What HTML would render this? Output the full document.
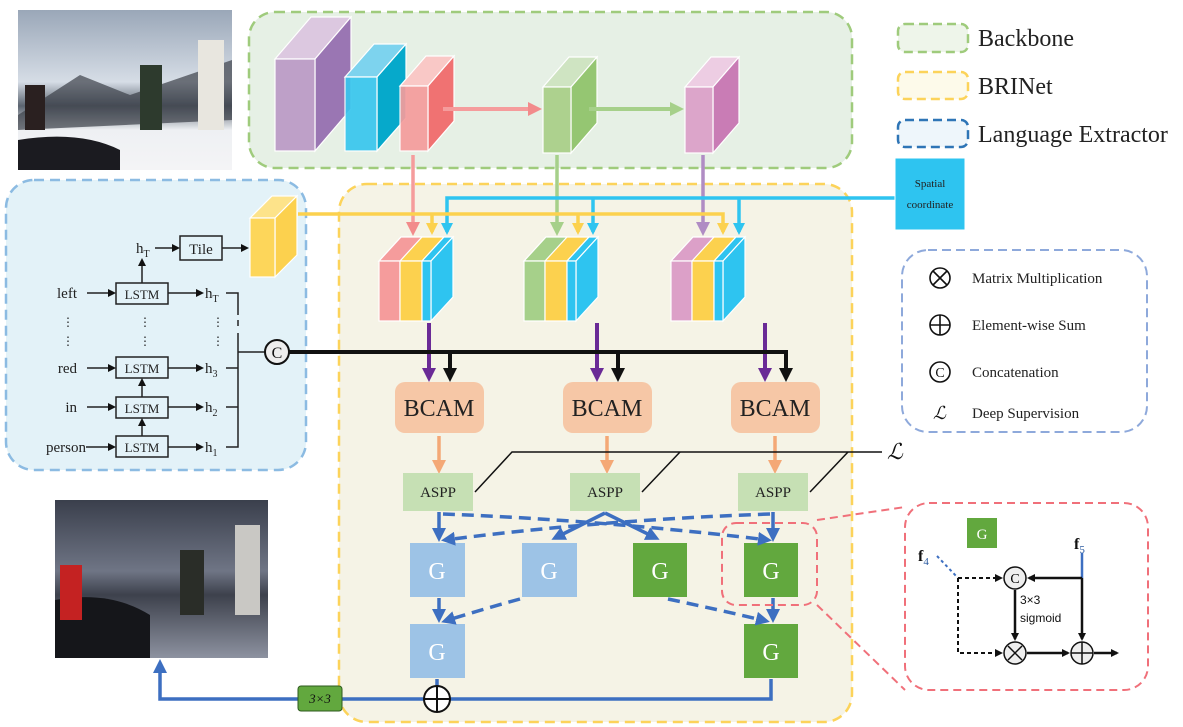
<!DOCTYPE html>
<html><head><meta charset="utf-8"><style>
html,body{margin:0;padding:0;background:#fff;}
svg{display:block;font-family:"Liberation Serif",serif;}
</style></head><body>
<svg width="1183" height="727" viewBox="0 0 1183 727" xmlns="http://www.w3.org/2000/svg">
<defs>
<marker id="ak" markerWidth="8" markerHeight="8" refX="6" refY="4" orient="auto" markerUnits="userSpaceOnUse"><path d="M0,0 L8,4 L0,8 Z" fill="#111"/></marker>
<marker id="ab" markerWidth="14" markerHeight="14" refX="10" refY="7" orient="auto" markerUnits="userSpaceOnUse"><path d="M0,0 L14,7 L0,14 Z" fill="#111"/></marker>
<marker id="ap" markerWidth="14" markerHeight="14" refX="10" refY="7" orient="auto" markerUnits="userSpaceOnUse"><path d="M0,0 L14,7 L0,14 Z" fill="#f28b8b"/></marker>
<marker id="ag" markerWidth="14" markerHeight="14" refX="10" refY="7" orient="auto" markerUnits="userSpaceOnUse"><path d="M0,0 L14,7 L0,14 Z" fill="#a6d08a"/></marker>
<marker id="am" markerWidth="14" markerHeight="14" refX="10" refY="7" orient="auto" markerUnits="userSpaceOnUse"><path d="M0,0 L14,7 L0,14 Z" fill="#b08cc4"/></marker>
<marker id="ay" markerWidth="12" markerHeight="12" refX="9" refY="6" orient="auto" markerUnits="userSpaceOnUse"><path d="M0,0 L12,6 L0,12 Z" fill="#fcd14e"/></marker>
<marker id="ac" markerWidth="12" markerHeight="12" refX="9" refY="6" orient="auto" markerUnits="userSpaceOnUse"><path d="M0,0 L12,6 L0,12 Z" fill="#2ec4f0"/></marker>
<marker id="av" markerWidth="14" markerHeight="14" refX="10" refY="7" orient="auto" markerUnits="userSpaceOnUse"><path d="M0,0 L14,7 L0,14 Z" fill="#6a2a96"/></marker>
<marker id="ao" markerWidth="14" markerHeight="14" refX="10" refY="7" orient="auto" markerUnits="userSpaceOnUse"><path d="M0,0 L14,7 L0,14 Z" fill="#f4a876"/></marker>
<marker id="abl" markerWidth="14" markerHeight="14" refX="10" refY="7" orient="auto" markerUnits="userSpaceOnUse"><path d="M0,0 L14,7 L0,14 Z" fill="#3d6fc1"/></marker>
<linearGradient id="sky" x1="0" y1="0" x2="0" y2="1"><stop offset="0" stop-color="#9aa7b8"/><stop offset="0.45" stop-color="#d6dde6"/><stop offset="0.6" stop-color="#5b6470"/><stop offset="0.75" stop-color="#eef0f3"/><stop offset="1" stop-color="#f4f4f6"/></linearGradient>
<linearGradient id="sky2" x1="0" y1="0" x2="0" y2="1"><stop offset="0" stop-color="#3a3f4c"/><stop offset="0.45" stop-color="#6f7585"/><stop offset="0.6" stop-color="#3d414c"/><stop offset="1" stop-color="#8d92a0"/></linearGradient>
</defs>

<!-- photos -->
<rect x="18" y="10" width="214" height="160" fill="url(#sky)"/>
<path d="M18,115 L80,75 L130,95 L232,60 L232,120 L18,130Z" fill="#3c4048" opacity="0.7"/>
<path d="M18,140 Q80,130 120,150 L120,170 L18,170Z" fill="#1b1b20"/>
<rect x="140" y="65" width="22" height="65" fill="#2d3a2d"/>
<rect x="198" y="40" width="26" height="90" fill="#e8e6df"/>
<rect x="25" y="85" width="20" height="45" fill="#2a2020"/>
<rect x="55" y="500" width="213" height="158" fill="url(#sky2)"/>
<path d="M55,600 Q110,590 150,615 L150,658 L55,658Z" fill="#15161a"/>
<rect x="60" y="565" width="22" height="55" fill="#c42222"/>
<rect x="180" y="550" width="24" height="65" fill="#2a2d28"/>
<rect x="235" y="525" width="25" height="90" fill="#c9c8c4"/>

<!-- Backbone region -->
<rect x="249" y="12" width="603" height="156" rx="26" fill="#e6f0e5" stroke="#9fcb7c" stroke-width="2.5" stroke-dasharray="10,6"/>
<!-- BRINet region -->
<rect x="339" y="184" width="513" height="538" rx="28" fill="#f5f3e6" stroke="#fcd35a" stroke-width="2.5" stroke-dasharray="10,6"/>
<!-- Language region -->
<rect x="6" y="180" width="300" height="290" rx="28" fill="#e3f2f8" stroke="#8cbbe2" stroke-width="2.5" stroke-dasharray="10,6"/>

<!-- backbone cubes -->
<g stroke="#fff" stroke-width="1.2">
<polygon points="275,59 311,17 351,17 315,59" fill="#dcc8e0"/><polygon points="315,59 351,17 351,109 315,151" fill="#9a76b3"/><rect x="275" y="59" width="40" height="92" fill="#bea0c8"/>
<polygon points="345,77 374,44 406,44 377,77" fill="#7dd3ee"/><polygon points="377,77 406,44 406,118 377,151" fill="#06a9cb"/><rect x="345" y="77" width="32" height="74" fill="#38c6ee" opacity="0.92"/>
<polygon points="400,86 426,56 454,56 428,86" fill="#f9c8c6"/><polygon points="428,86 454,56 454,121 428,151" fill="#f07272"/><rect x="400" y="86" width="28" height="65" fill="#f59c9c" opacity="0.92"/>
<polygon points="543,87 569,57 597,57 571,87" fill="#cfe4c2"/><polygon points="571,87 597,57 597,123 571,153" fill="#95c672"/><rect x="543" y="87" width="28" height="66" fill="#add18e"/>
<polygon points="685,87 711,57 739,57 713,87" fill="#edcde3"/><polygon points="713,87 739,57 739,123 713,153" fill="#c97cb5"/><rect x="685" y="87" width="28" height="66" fill="#dca5ca"/>
</g>
<line x1="443" y1="109" x2="538" y2="109" stroke="#f59c9c" stroke-width="4" marker-end="url(#ap)"/>
<line x1="589" y1="109" x2="680" y2="109" stroke="#a6d08a" stroke-width="4" marker-end="url(#ag)"/>
<line x1="413" y1="155" x2="413" y2="232" stroke="#f59c9c" stroke-width="3.5" marker-end="url(#ap)"/>
<line x1="557" y1="155" x2="557" y2="232" stroke="#a6d08a" stroke-width="3.5" marker-end="url(#ag)"/>
<line x1="703" y1="155" x2="703" y2="232" stroke="#b08cc4" stroke-width="3.5" marker-end="url(#am)"/>

<!-- cyan spatial line -->
<polyline points="895,198 447,198 447,232" fill="none" stroke="#2ec4f0" stroke-width="3.5" marker-end="url(#ac)"/>
<line x1="593" y1="198" x2="593" y2="232" stroke="#2ec4f0" stroke-width="3.5" marker-end="url(#ac)"/>
<line x1="739" y1="198" x2="739" y2="232" stroke="#2ec4f0" stroke-width="3.5" marker-end="url(#ac)"/>
<!-- yellow line -->
<polyline points="298,214 723,214 723,232" fill="none" stroke="#fcd14e" stroke-width="3.5" marker-end="url(#ay)"/>
<line x1="432" y1="214" x2="432" y2="232" stroke="#fcd14e" stroke-width="3.5" marker-end="url(#ay)"/>
<line x1="578" y1="214" x2="578" y2="232" stroke="#fcd14e" stroke-width="3.5" marker-end="url(#ay)"/>

<!-- spatial coordinate box -->
<rect x="895" y="158" width="70" height="72" fill="#2ec4f0" stroke="#fff"/>
<text x="930" y="187" font-size="11" text-anchor="middle" fill="#222">Spatial</text>
<text x="930" y="208" font-size="11" text-anchor="middle" fill="#222">coordinate</text>

<!-- stacked feature blocks -->
<g stroke="#fff" stroke-width="1.2">
<g transform="translate(379,0)">
<polygon points="0,261 22,237 65,237 43,261" fill="#fcd14e"/><polygon points="0,261 22,237 43,237 21,261" fill="#f59c9c"/>
<polygon points="43,261 65,237 74,237 52,261" fill="#2ec4f0"/>
<polygon points="52,261 74,237 74,297 52,321" fill="#2ec4f0"/>
<rect x="0" y="261" width="21" height="60" fill="#f59c9c"/><rect x="21" y="261" width="22" height="60" fill="#fcd14e"/><rect x="43" y="261" width="9" height="60" fill="#2ec4f0"/>
</g>
<g transform="translate(524,0)">
<polygon points="0,261 22,237 65,237 43,261" fill="#fcd14e"/><polygon points="0,261 22,237 43,237 21,261" fill="#a6d08a"/>
<polygon points="43,261 65,237 74,237 52,261" fill="#2ec4f0"/>
<polygon points="52,261 74,237 74,297 52,321" fill="#2ec4f0"/>
<rect x="0" y="261" width="21" height="60" fill="#a6d08a"/><rect x="21" y="261" width="22" height="60" fill="#fcd14e"/><rect x="43" y="261" width="9" height="60" fill="#2ec4f0"/>
</g>
<g transform="translate(671,0)">
<polygon points="0,261 22,237 65,237 43,261" fill="#fcd14e"/><polygon points="0,261 22,237 43,237 21,261" fill="#dca0c8"/>
<polygon points="43,261 65,237 74,237 52,261" fill="#2ec4f0"/>
<polygon points="52,261 74,237 74,297 52,321" fill="#2ec4f0"/>
<rect x="0" y="261" width="21" height="60" fill="#dca0c8"/><rect x="21" y="261" width="22" height="60" fill="#fcd14e"/><rect x="43" y="261" width="9" height="60" fill="#2ec4f0"/>
</g>
<!-- yellow lang cube -->
<polygon points="250,218 272,196 297,196 275,218" fill="#fde38a"/><polygon points="275,218 297,196 297,255 275,277" fill="#fcd14e"/><rect x="250" y="218" width="25" height="59" fill="#fdd65a"/>
</g>

<!-- purple arrows and black concat -->
<g stroke-width="4">
<line x1="429" y1="323" x2="429" y2="378" stroke="#6a2a96" marker-end="url(#av)"/>
<line x1="597" y1="323" x2="597" y2="378" stroke="#6a2a96" marker-end="url(#av)"/>
<line x1="765" y1="323" x2="765" y2="378" stroke="#6a2a96" marker-end="url(#av)"/>
</g>
<polyline points="289,352 786,352 786,378" fill="none" stroke="#111" stroke-width="4" marker-end="url(#ab)"/>
<line x1="450" y1="352" x2="450" y2="378" stroke="#111" stroke-width="4" marker-end="url(#ab)"/>
<line x1="618" y1="352" x2="618" y2="378" stroke="#111" stroke-width="4" marker-end="url(#ab)"/>

<!-- BCAM -->
<g font-size="24" text-anchor="middle" fill="#222">
<rect x="395" y="382" width="89" height="51" rx="10" fill="#f6c7a6"/><text x="439" y="416">BCAM</text>
<rect x="563" y="382" width="89" height="51" rx="10" fill="#f6c7a6"/><text x="607" y="416">BCAM</text>
<rect x="731" y="382" width="89" height="51" rx="10" fill="#f6c7a6"/><text x="775" y="416">BCAM</text>
</g>
<g stroke="#f4a876" stroke-width="3.5">
<line x1="439" y1="436" x2="439" y2="470" marker-end="url(#ao)"/>
<line x1="607" y1="436" x2="607" y2="470" marker-end="url(#ao)"/>
<line x1="775" y1="436" x2="775" y2="470" marker-end="url(#ao)"/>
</g>
<!-- L lines -->
<polyline points="475,492 512,452 882,452" fill="none" stroke="#111" stroke-width="1.5"/>
<line x1="642" y1="492" x2="680" y2="452" stroke="#111" stroke-width="1.5"/>
<line x1="810" y1="492" x2="848" y2="452" stroke="#111" stroke-width="1.5"/>
<text x="887" y="459" font-size="22" font-style="italic" fill="#111">ℒ</text>
<!-- ASPP -->
<g font-size="15" text-anchor="middle" fill="#222">
<rect x="403" y="473" width="70" height="38" fill="#c6e0b4"/><text x="438" y="497">ASPP</text>
<rect x="570" y="473" width="70" height="38" fill="#c6e0b4"/><text x="605" y="497">ASPP</text>
<rect x="738" y="473" width="70" height="38" fill="#c6e0b4"/><text x="773" y="497">ASPP</text>
</g>

<!-- G blocks -->
<g font-size="24" text-anchor="middle" fill="#fff">
<rect x="410" y="543" width="55" height="54" fill="#9dc3e6"/><text x="437" y="579">G</text>
<rect x="522" y="543" width="55" height="54" fill="#9dc3e6"/><text x="549" y="579">G</text>
<rect x="633" y="543" width="54" height="54" fill="#62a83e"/><text x="660" y="579">G</text>
<rect x="744" y="543" width="54" height="54" fill="#62a83e"/><text x="771" y="579">G</text>
<rect x="410" y="624" width="55" height="54" fill="#9dc3e6"/><text x="437" y="660">G</text>
<rect x="744" y="624" width="54" height="54" fill="#62a83e"/><text x="771" y="660">G</text>
</g>
<!-- blue arrows -->
<g fill="none" stroke="#3d6fc1" stroke-width="3.5">
<line x1="439" y1="512" x2="439" y2="538" marker-end="url(#abl)"/>
<line x1="773" y1="512" x2="773" y2="538" marker-end="url(#abl)"/>
<polyline points="605,513 555,538" marker-end="url(#abl)"/>
<polyline points="605,513 656,538" marker-end="url(#abl)"/>
<line x1="439" y1="598" x2="439" y2="619" marker-end="url(#abl)"/>
<line x1="773" y1="598" x2="773" y2="619" marker-end="url(#abl)"/>
<g stroke-dasharray="12,7">
<path d="M443,514 Q600,520 768,540" marker-end="url(#abl)"/>
<path d="M770,514 Q600,520 445,540" marker-end="url(#abl)"/>
<path d="M520,599 Q480,610 445,621" marker-end="url(#abl)"/>
<path d="M668,599 Q720,610 766,621" marker-end="url(#abl)"/>
</g>
<line x1="437" y1="679" x2="437" y2="688"/>
<polyline points="771,679 771,699 160,699 160,663" marker-end="url(#abl)"/>
</g>
<circle cx="437" cy="699" r="13" fill="#fff" stroke="#111" stroke-width="2"/>
<line x1="424" y1="699" x2="450" y2="699" stroke="#111" stroke-width="2"/><line x1="437" y1="686" x2="437" y2="712" stroke="#111" stroke-width="2"/>
<rect x="298" y="686" width="44" height="25" rx="3" fill="#62a83e" stroke="#2e5a1e"/>
<text x="320" y="703" font-size="13" font-style="italic" text-anchor="middle" fill="#111">3×3</text>

<!-- pink detail -->
<rect x="722" y="523" width="95" height="82" rx="14" fill="none" stroke="#f0707a" stroke-width="2" stroke-dasharray="8,5"/>
<line x1="817" y1="520" x2="905" y2="507" stroke="#f0707a" stroke-width="2" stroke-dasharray="8,5"/>
<line x1="817" y1="605" x2="905" y2="690" stroke="#f0707a" stroke-width="2" stroke-dasharray="8,5"/>
<rect x="905" y="503" width="243" height="187" rx="24" fill="#fff" stroke="#f0707a" stroke-width="2" stroke-dasharray="8,5"/>
<rect x="967" y="518" width="30" height="30" fill="#62a83e"/><text x="982" y="539" font-size="15" text-anchor="middle" fill="#fff">G</text>
<text x="918" y="561" font-size="16" font-weight="bold" fill="#111">f<tspan font-size="11" font-weight="normal" dy="4" fill="#2a5aa0">4</tspan></text>
<text x="1074" y="549" font-size="16" font-weight="bold" fill="#111">f<tspan font-size="11" font-weight="normal" dy="4" fill="#2a5aa0">5</tspan></text>
<line x1="937" y1="556" x2="958" y2="578" stroke="#3d6fc1" stroke-width="2" stroke-dasharray="3,3"/>
<polyline points="958,578 1001,578" fill="none" stroke="#111" stroke-width="2" stroke-dasharray="4,3" marker-end="url(#ak)"/>
<polyline points="958,578 958,653 1001,653" fill="none" stroke="#111" stroke-width="2" stroke-dasharray="4,3" marker-end="url(#ak)"/>
<line x1="1082" y1="553" x2="1082" y2="578" stroke="#3d6fc1" stroke-width="2.5"/>
<line x1="1082" y1="578" x2="1029" y2="578" stroke="#111" stroke-width="2.5" marker-end="url(#ak)"/>
<line x1="1082" y1="578" x2="1082" y2="639" stroke="#111" stroke-width="2.5" marker-end="url(#ak)"/>
<line x1="1015" y1="590" x2="1015" y2="639" stroke="#111" stroke-width="2.5" marker-end="url(#ak)"/>
<line x1="1027" y1="653" x2="1068" y2="653" stroke="#111" stroke-width="2.5" marker-end="url(#ak)"/>
<line x1="1094" y1="653" x2="1117" y2="653" stroke="#111" stroke-width="2.5" marker-end="url(#ak)"/>
<g font-family="Liberation Sans,sans-serif" font-size="12" fill="#111"><text x="1020" y="604">3×3</text><text x="1020" y="622">sigmoid</text></g>
<circle cx="1015" cy="578" r="11" fill="#eee" stroke="#111" stroke-width="1.5"/><text x="1015" y="583" font-size="14" text-anchor="middle">C</text>
<circle cx="1015" cy="653" r="11" fill="#eee" stroke="#111" stroke-width="1.5"/>
<path d="M1008,646 L1022,660 M1022,646 L1008,660" stroke="#111" stroke-width="1.5"/>
<circle cx="1082" cy="653" r="11" fill="#eee" stroke="#111" stroke-width="1.5"/>
<path d="M1071,653 L1093,653 M1082,642 L1082,664" stroke="#111" stroke-width="1.5"/>

<!-- language extractor -->
<g font-size="15" fill="#222" stroke="#222">
<rect x="180" y="236" width="42" height="24" fill="none" stroke-width="1.5"/>
<rect x="116" y="283" width="52" height="21" fill="none" stroke-width="1.5"/>
<rect x="116" y="357" width="52" height="21" fill="none" stroke-width="1.5"/>
<rect x="116" y="397" width="52" height="21" fill="none" stroke-width="1.5"/>
<rect x="116" y="436" width="52" height="21" fill="none" stroke-width="1.5"/>
<g stroke-width="1.5">
<line x1="155" y1="248" x2="178" y2="248" marker-end="url(#ak)"/>
<line x1="222" y1="248" x2="247" y2="248" marker-end="url(#ak)"/>
<line x1="142" y1="283" x2="142" y2="260" marker-end="url(#ak)"/>
<line x1="87" y1="293" x2="114" y2="293" marker-end="url(#ak)"/>
<line x1="87" y1="368" x2="114" y2="368" marker-end="url(#ak)"/>
<line x1="87" y1="407" x2="114" y2="407" marker-end="url(#ak)"/>
<line x1="86" y1="447" x2="114" y2="447" marker-end="url(#ak)"/>
<line x1="168" y1="293" x2="202" y2="293" marker-end="url(#ak)"/>
<line x1="168" y1="368" x2="202" y2="368" marker-end="url(#ak)"/>
<line x1="168" y1="407" x2="202" y2="407" marker-end="url(#ak)"/>
<line x1="168" y1="447" x2="202" y2="447" marker-end="url(#ak)"/>
<line x1="142" y1="397" x2="142" y2="380" marker-end="url(#ak)"/>
<line x1="142" y1="436" x2="142" y2="420" marker-end="url(#ak)"/>
<polyline points="226,293 238,293 238,315" fill="none"/>
<line x1="238" y1="320" x2="238" y2="326"/>
<polyline points="238,333 238,447 226,447" fill="none"/>
<line x1="226" y1="368" x2="238" y2="368"/><line x1="226" y1="407" x2="238" y2="407"/>
<line x1="238" y1="352" x2="265" y2="352"/>
</g>
<g stroke="none">
<text x="136" y="253">h<tspan font-size="10" dy="4">T</tspan></text>
<text x="201" y="254" text-anchor="middle">Tile</text>
<g font-size="13" text-anchor="middle"><text x="142" y="299">LSTM</text><text x="142" y="373">LSTM</text><text x="142" y="413">LSTM</text><text x="142" y="452">LSTM</text></g>
<g text-anchor="end"><text x="77" y="298">left</text><text x="77" y="373">red</text><text x="77" y="412">in</text><text x="86" y="452">person</text></g>
<text x="205" y="298">h<tspan font-size="10" dy="4">T</tspan></text>
<text x="205" y="373">h<tspan font-size="10" dy="4">3</tspan></text>
<text x="205" y="412">h<tspan font-size="10" dy="4">2</tspan></text>
<text x="205" y="452">h<tspan font-size="10" dy="4">1</tspan></text>
<g font-size="12"><text x="62" y="326">⋮</text><text x="62" y="345">⋮</text><text x="139" y="326">⋮</text><text x="139" y="345">⋮</text><text x="212" y="326">⋮</text><text x="212" y="345">⋮</text></g>
</g>
</g>
<circle cx="277" cy="352" r="12" fill="#eee" stroke="#111" stroke-width="2"/>
<text x="277" y="358" font-size="16" text-anchor="middle" fill="#111">C</text>

<!-- legend -->
<rect x="898" y="24" width="70" height="28" rx="7" fill="#eef5ea" stroke="#9fcb7c" stroke-width="2.5" stroke-dasharray="9,5"/>
<rect x="898" y="72" width="70" height="27" rx="7" fill="#fdfaea" stroke="#fcd35a" stroke-width="2.5" stroke-dasharray="9,5"/>
<rect x="898" y="120" width="70" height="27" rx="7" fill="#eef6fb" stroke="#2e75b6" stroke-width="2.5" stroke-dasharray="9,5"/>
<g font-size="24" fill="#222"><text x="978" y="46">Backbone</text><text x="978" y="94">BRINet</text><text x="978" y="142">Language Extractor</text></g>

<rect x="902" y="250" width="245" height="182" rx="26" fill="#fff" stroke="#8ea9db" stroke-width="2" stroke-dasharray="9,5"/>
<g stroke="#111" stroke-width="1.6" fill="none">
<circle cx="940" cy="278" r="10"/><path d="M933,271 L947,285 M947,271 L933,285"/>
<circle cx="940" cy="325" r="10"/><path d="M930,325 L950,325 M940,315 L940,335"/>
<circle cx="940" cy="372" r="10"/>
</g>
<text x="940" y="377" font-size="14" text-anchor="middle" fill="#111">C</text>
<text x="933" y="419" font-size="18" font-style="italic" fill="#111">ℒ</text>
<g font-size="15" fill="#222"><text x="972" y="283">Matrix Multiplication</text><text x="972" y="330">Element-wise Sum</text><text x="972" y="377">Concatenation</text><text x="972" y="418">Deep Supervision</text></g>
</svg>
</body></html>
